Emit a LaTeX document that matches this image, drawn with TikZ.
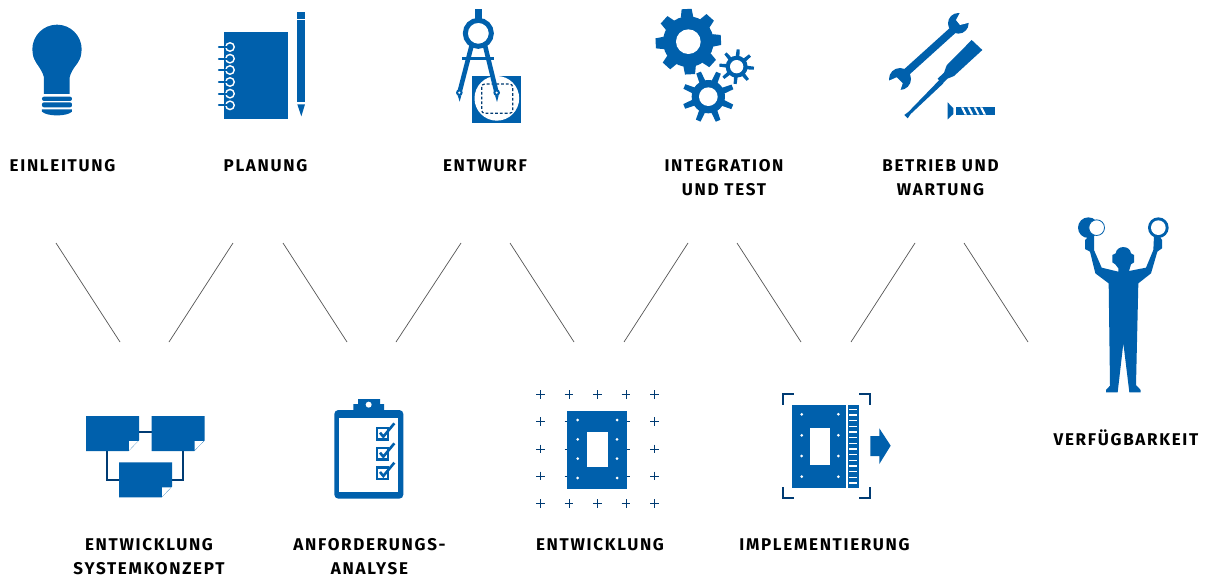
\documentclass[tikz,border=0pt]{standalone}
\usepackage{fontspec}
\newfontfamily\lblfont[LetterSpace=10]{Fira Sans}
\definecolor{iconblue}{HTML}{0060AC}
\definecolor{navy}{HTML}{003B73}
\definecolor{rule}{HTML}{555555}
\tikzset{
  lbl/.style={font=\lblfont\bfseries\fontsize{17}{24}\selectfont,text=black,align=center,inner sep=0pt},
  icon/.style={fill=iconblue,draw=none},
  hole/.style={fill=white,draw=none},
  wire/.style={draw=navy,line width=2pt},
  stroke/.style={draw=iconblue},
  rulerline/.style={draw=rule,line width=0.7pt},
  zoomed/.style 2 args={shift={(#1,#2)},scale=0.33333}
}
\newcommand{\cog}[8]{% cx cy hole body outer n toothw/2 phase
  \begin{scope}[shift={(#1,#2)}]
    \fill[icon] (0,0) circle (#4);
    \foreach \i in {1,...,#6}{
      \fill[icon,rotate={\i*360/#6+#8}] (-#7*1.25,-#4+3) -- (-#7,-#5) -- (#7,-#5) -- (#7*1.25,-#4+3) -- cycle;
    }
    \fill[hole] (0,0) circle (#3);
  \end{scope}}
\newcommand{\sheet}[2]{% top-left of a sheet in zoom units
  \begin{scope}[shift={(#1,#2)}]
    \fill[icon] (0,0) -- (159,0) -- (159,73) -- (128,105) -- (0,105) -- cycle;
    \fill[hole] (129,75) -- (156,75) -- (129,103) -- cycle;
  \end{scope}}
\begin{document}
\begin{tikzpicture}[x=1pt,y=-1pt]
\useasboundingbox (0,0) rectangle (1207,578);
\fill[white] (0,0) rectangle (1207,578);

% texts
\node[lbl] (t1) at (62.5,166) {EINLEITUNG};
\node[lbl] (t2) at (265.5,166) {PLANUNG};
\node[lbl] (t3) at (485,166) {ENTWURF};
\node[lbl] (t4) at (724,178) {INTEGRATION\\UND TEST};
\node[lbl] (t5) at (940.5,178) {BETRIEB UND\\WARTUNG};
\node[lbl] (t6) at (1126,438) {VERFÜGBARKEIT};
\node[lbl] (t7) at (149,557) {ENTWICKLUNG\\SYSTEMKONZEPT};
\node[lbl] (t8) at (369.5,557) {ANFORDERUNGS-\\ANALYSE};
\node[lbl] (t9) at (600,545) {ENTWICKLUNG};
\node[lbl] (t10) at (824.5,545) {IMPLEMENTIERUNG};

% thin lines
\coordinate (a1) at (56,243);  \coordinate (b1) at (120,342);
\coordinate (a2) at (233,243); \coordinate (b2) at (169,342);
\coordinate (a3) at (283,243); \coordinate (b3) at (347,342);
\coordinate (a4) at (461,243); \coordinate (b4) at (396,342);
\coordinate (a5) at (510,243); \coordinate (b5) at (574,342);
\coordinate (a6) at (688,243); \coordinate (b6) at (624,342);
\coordinate (a7) at (737,243); \coordinate (b7) at (801,342);
\coordinate (a8) at (915,243); \coordinate (b8) at (851,342);
\coordinate (a9) at (964,243); \coordinate (b9) at (1028,342);
\foreach \i in {1,...,9}{\draw[rulerline] (a\i) -- (b\i);}

% bulb + notebook
\begin{scope}[zoomed={0}{0}]
  \fill[icon] (171,148) circle (74);
  \fill[icon] (99,165) .. controls (105,190) and (125,205) .. (132,232) -- (132,282) -- (209,282) -- (209,232)
     .. controls (215,205) and (237,190) .. (243,165) -- cycle;
  \fill[icon,rounded corners=2pt] (126,290) rectangle (216,303);
  \fill[icon,rounded corners=2pt] (126,307) rectangle (216,322);
  \fill[icon] (126,328) -- (216,328) -- (216,335) .. controls (200,350) and (142,350) .. (126,335) -- cycle;
  % notebook
  \fill[icon] (671,96) rectangle (864,356);
  \foreach \yy in {141,176,210,246,281,316}{
    \fill[hole] (690,\yy) circle (15);
    \draw[stroke,line width=2.3pt,line cap=round] (657,\yy) -- (690,\yy);
    \fill[icon] (690,\yy) circle (10);
  }
  % pencil
  \fill[icon] (891,36) rectangle (915,57);
  \fill[icon] (891,61) rectangle (915,306);
  \fill[icon] (892,313) -- (915,313) -- (904,349) -- cycle;
\end{scope}

% compass
\begin{scope}[zoomed={430}{0}]
  \fill[icon] (126,228) rectangle (273,368);
  \fill[hole] (200.5,295) circle (67);
  \draw[draw=navy,line width=1.2pt,rounded corners=3pt,dash pattern=on 2.8pt off 2pt] (155,252) rectangle (248,340);
  \fill[icon] (135,27) rectangle (156,60);
  \draw[stroke,line width=5pt] (145,100) circle (39);
  \draw[stroke,line width=4.6pt] (127,128) -- (89,275);
  \draw[stroke,line width=4.6pt] (163,128) -- (199,275);
  \draw[stroke,line width=2.4pt] (97,176) -- (192,176);
  \fill[icon] (88,278) circle (10);
  \fill[icon] (83,286) -- (94,286) -- (89,305) -- cycle;
  \fill[hole] (88,278) circle (3.6);
  \fill[icon] (200,278) circle (10);
  \fill[icon] (195,286) -- (206,286) -- (201,306) -- cycle;
  \fill[hole] (200,278) circle (3.6);
\end{scope}

% gears
\begin{scope}[zoomed={430}{0}]
  \cog{775}{125}{37}{76}{98}{8}{15}{3}
  \cog{920}{200}{20}{33}{52}{8}{4.5}{-5}
  \cog{835}{290}{28}{50}{78}{8}{7.5}{22}
\end{scope}

% wrench, screwdriver, screw
\begin{scope}[zoomed={870}{0}]
  \draw[stroke,line width=7.5pt] (100,225) -- (255,85);
  \fill[icon] (265,70) circle (31);
  \fill[hole] (270,38) -- (258,60) -- (270,75) -- (297,68) -- (310,30) -- cycle;
  \fill[icon] (90,237) circle (33);
  \fill[hole] (55,243) -- (80,232) -- (98,250) -- (90,274) -- (50,285) -- cycle;
  \fill[icon] (305,120) -- (337,150) -- (252,228) -- (232,236) -- (216,252) -- (203,236) -- (222,218) -- (230,196) -- cycle;
  \fill[icon] (208,240) -- (220,250) -- (122,342) -- (113,355) -- (103,345) -- (116,335) -- cycle;
  \fill[icon] (233,307) -- (250,325) -- (250,342) -- (233,358) -- cycle;
  \fill[icon] (257,322) rectangle (375,344);
  \foreach \xx in {278,297,316,335}{
    \fill[hole] (\xx-5,322) -- (\xx+2,322) -- (\xx+13,344) -- (\xx+6,344) -- cycle;
  }
\end{scope}

% person
\begin{scope}[zoomed={1050}{205}]
  \fill[icon] (115,68) circle (31);
  \fill[icon] (325,68) circle (31);
  \fill[hole] (325,68) circle (22);
  \draw[draw=iconblue,fill=white,line width=0.8pt] (140,68) circle (23.5);
  \fill[icon] (265,235) -- (258,540) -- (272,555) -- (272,562) -- (238,562) -- (220,415) -- (203,562) -- (168,562) -- (168,555) -- (180,542) -- (176,235)
    -- (136,205) -- (120,140) -- (105,132) -- (105,105) -- (118,92) -- (132,92) -- (132,135) -- (155,188) -- (205,200) -- (205,190)
    -- (196,178) -- (187,172) -- (187,150) -- (197,145) .. controls (200,120) and (240,120) .. (243,145) -- (252,150) -- (252,172) -- (243,178) -- (237,198)
    -- (288,188) -- (310,135) -- (312,92) -- (328,92) -- (336,105) -- (336,130) -- (322,140) -- (303,205) -- cycle;
\end{scope}

% flow chart
\begin{scope}[zoomed={70}{390}]
  \draw[wire] (207,126) -- (245,126);
  \draw[wire] (112,183) -- (112,270) -- (147,270);
  \draw[wire] (340,183) -- (340,270) -- (305,270);
  \sheet{48}{78}
  \sheet{245}{78}
  \sheet{147}{217}
  % clipboard
  \fill[icon,rounded corners=4pt] (793,60) rectangle (1000,326);
  \fill[icon] (850,60) -- (850,42) -- (864,42) -- (864,27) -- (930,27) -- (930,42) -- (942,42) -- (942,60) -- cycle;
  \fill[hole] (896,44) circle (9);
  \fill[hole] (808,85) rectangle (985,305);
  \foreach \yy in {110,170,228}{
    \draw[stroke,line width=2.6pt] (921,\yy+4) rectangle (954,\yy+39);
    \draw[stroke,line width=2.6pt] (930,\yy+18) -- (940,\yy+30) -- (973,\yy-10);
  }
\end{scope}

% Entwicklung
\begin{scope}[zoomed={520}{380}]
  \foreach \xx in {61,147,232,318,403}{
    \foreach \yy in {44,125,207,288,370}{
      \draw[draw=navy,line width=0.9pt] (\xx-13,\yy) -- (\xx+13,\yy) (\xx,\yy-13) -- (\xx,\yy+13);
    }
  }
  \fill[icon] (141,93) rectangle (321,326);
  \fill[hole] (201,156) rectangle (264,261);
  \foreach \xx in {173,291}{\foreach \yy in {120,178,236,294}{\fill[hole] (\xx,\yy) circle (4.5);}}
  % Implementierung
  \fill[icon] (816,75) rectangle (978,324);
  \fill[hole] (870,144) rectangle (930,255);
  \foreach \xx in {845,955}{\foreach \yy in {103,166,228,290}{\fill[hole] (\xx,\yy) circle (4.5);}}
  \fill[icon] (985,75) rectangle (1018,324);
  \foreach \yy in {88,105,122,139,156,173,190,207,224,241,258,275,292,309}{
    \fill[hole] (988,\yy-1.7) rectangle (1012,\yy+1.7);
  }
  \draw[draw=navy,line width=2pt] (788,74) -- (788,42) -- (823,42);
  \draw[draw=navy,line width=2pt] (1017,42) -- (1050,42) -- (1050,74);
  \draw[draw=navy,line width=2pt] (788,322) -- (788,355) -- (823,355);
  \draw[draw=navy,line width=2pt] (1017,355) -- (1050,355) -- (1050,322);
  \fill[icon] (1051,168) -- (1078,168) -- (1078,145) -- (1112,197) -- (1078,252) -- (1078,228) -- (1051,228) -- cycle;
\end{scope}
\end{tikzpicture}
\end{document}
